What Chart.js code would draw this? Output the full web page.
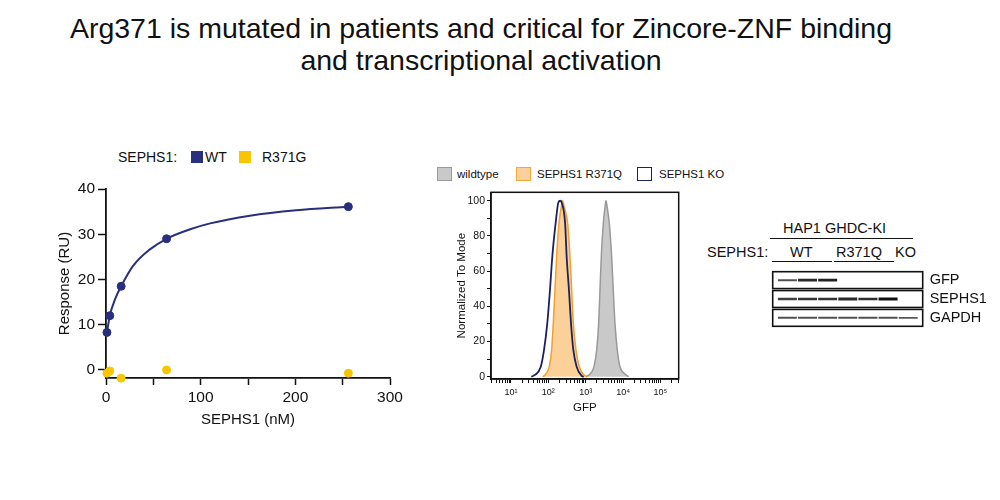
<!DOCTYPE html>
<html>
<head>
<meta charset="utf-8">
<script src="https://cdn.jsdelivr.net/npm/chart.js@4.4.1/dist/chart.umd.min.js"></script>
<style>
body { margin:0; width:1000px; height:500px; background:#fff; position:relative; overflow:hidden;
       font-family:"Liberation Sans", Arial, sans-serif; color:#111; }
.abs { position:absolute; white-space:nowrap; }
canvas { position:absolute; }
.title { left:0; width:962px; text-align:center; font-size:28.5px; line-height:32px; }
.sw { position:absolute; box-sizing:border-box; }
.lg1 { font-size:14px; line-height:14px; }
.lg2 { font-size:11.5px; line-height:12px; }
.blot { font-size:14.5px; line-height:16px; }
.rule { position:absolute; height:0; border-top:1.5px solid #111; }
</style>
</head>
<body>

<div class="abs title" style="top:12px">Arg371 is mutated in patients and critical for Zincore-ZNF binding</div>
<div class="abs title" style="top:44px">and transcriptional activation</div>

<!-- panel 1 legend -->
<div class="abs lg1" style="left:118px;top:150px">SEPHS1:</div>
<div class="sw" style="left:191px;top:151px;width:12px;height:12px;background:#282f7d"></div>
<div class="abs lg1" style="left:205px;top:150px">WT</div>
<div class="sw" style="left:239px;top:151px;width:12px;height:12px;background:#f7c600"></div>
<div class="abs lg1" style="left:262px;top:150px">R371G</div>

<!-- panel 2 legend -->
<div class="sw" style="left:437px;top:167px;width:15px;height:14px;background:#c9c9c9;border:1.5px solid #9a9a9a"></div>
<div class="abs lg2" style="left:457px;top:168px">wildtype</div>
<div class="sw" style="left:516px;top:167px;width:15px;height:14px;background:#fcd09a;border:1.5px solid #f3a83a"></div>
<div class="abs lg2" style="left:537px;top:168px">SEPHS1 R371Q</div>
<div class="sw" style="left:637px;top:167px;width:15px;height:14px;background:#fff;border:1.5px solid #1c2163"></div>
<div class="abs lg2" style="left:659px;top:168px">SEPHS1 KO</div>

<!-- panel 3 header -->
<div class="abs blot" style="left:783px;top:220px">HAP1 GHDC-KI</div>
<div class="rule" style="left:770px;top:238px;width:143px"></div>
<div class="abs blot" style="left:707px;top:244px">SEPHS1:</div>
<div class="abs blot" style="left:790px;top:244px">WT</div>
<div class="abs blot" style="left:836px;top:244px">R371Q</div>
<div class="abs blot" style="left:895px;top:244px">KO</div>
<div class="rule" style="left:772px;top:261px;width:60px"></div>
<div class="rule" style="left:834px;top:261px;width:60px"></div>

<canvas id="bindChart" style="left:0;top:170px" width="420" height="270"></canvas>
<canvas id="flowChart" style="left:430px;top:184px" width="270" height="236"></canvas>
<canvas id="blotChart" style="left:760px;top:258px" width="240" height="82"></canvas>

<script>
// ── Binding (SPR) data ─────────────────────────────────────────────
const concNM      = [1, 4, 16, 64, 256];
const wtResponse  = [8.3, 12.0, 18.5, 29.0, 36.1];
const mutResponse = [-0.7, -0.2, -1.8, 0.0, -0.7];
// fitted curve
const fitConc     = [1, 4, 9.5, 16, 29, 46, 64, 89, 110, 152, 201, 256];
const fitResponse = [8.3, 12.0, 15.6, 18.5, 23.1, 26.6, 29.0, 31.1, 32.4, 34.1, 35.3, 36.1];
const bindXTicks  = [0, 50, 100, 150, 200, 250, 300];
const bindYTicks  = [0, 10, 20, 30, 40];

// ── Flow cytometry histograms (GFP, normalized to mode) ───────────
const koGfp     = [35, 44, 63, 77, 94, 111, 128, 157, 186, 209, 228, 282, 310, 357, 405, 467, 573, 780, 891];
const koCount   = [0, 1, 5.7, 15.2, 30.3, 49.3, 68.2, 87.1, 99, 100, 99, 87.1, 68.2, 49.3, 30.3, 15.2, 5.7, 0.5, 0];
const mutGfp    = [71, 82, 106, 123, 136, 151, 167, 193, 229, 243, 263, 330, 380, 422, 467, 550, 676, 957, 1072];
const mutCount  = [0, 1, 5.7, 15.2, 30.3, 49.3, 68.2, 87.1, 98, 100, 97, 87.1, 68.2, 49.3, 30.3, 15.2, 5.7, 0.5, 0];
const wtGfp     = [1000, 1303, 1667, 1968, 2223, 2410, 2612, 2958, 3311, 3491, 3715, 4285, 4955, 5470, 6067, 6998, 8260, 11220, 14125];
const wtCount   = [0, 1.5, 5.7, 15.2, 30.3, 49.3, 68.2, 87.1, 97, 100, 97, 87.1, 68.2, 49.3, 30.3, 15.2, 5.7, 1.5, 0];
const flowDecades = [0, 1, 2, 3, 4, 5];
const flowYTicks  = [0, 10, 20, 30, 40, 50, 60, 70, 80, 90, 100];

// ── Western blot (relative band intensity per lane) ───────────────
const blotRows   = ['GFP', 'SEPHS1', 'GAPDH'];
const blotLanes  = [1, 2, 3, 4, 5, 6, 7];
const gfpBand    = [0.45, 0.8, 0.85, 0, 0, 0, 0];
const sephs1Band = [0.6, 0.7, 0.7, 0.8, 0.75, 1.0, 0];
const gapdhBand  = [0.45, 0.45, 0.45, 0.45, 0.45, 0.45, 0.4];

const NAVY = '#282f7d', GOLD = '#f7c600';
Chart.defaults.font.family = '"Liberation Sans", Arial, sans-serif';
Chart.defaults.color = '#111';
Chart.defaults.animation = false;
Chart.defaults.plugins.legend.display = false;
Chart.defaults.plugins.tooltip.enabled = false;

const fixedTicks = list => scale => { scale.ticks = list.map(v => ({ value: v })); };

// ==================== PANEL 1: binding ====================
new Chart(document.getElementById('bindChart'), {
    type: 'scatter',
    data: {
        datasets: [{
            data: concNM.map((x, i) => ({ x, y: wtResponse[i] })),
            backgroundColor: NAVY, borderColor: NAVY, pointRadius: 4, clip: false
        }, {
            type: 'line',
            data: fitConc.map((x, i) => ({ x, y: fitResponse[i] })),
            borderColor: NAVY, borderWidth: 2, pointRadius: 0,
            cubicInterpolationMode: 'monotone', clip: false
        }, {
            data: concNM.map((x, i) => ({ x, y: mutResponse[i] })),
            backgroundColor: GOLD, borderColor: GOLD, pointRadius: 4, clip: false
        }]
    },
    options: {
        responsive: false,
        layout: { padding: { left: 56, top: 19, right: 30, bottom: 11 } },
        scales: {
            x: {
                type: 'linear', min: 0, max: 300,
                afterBuildTicks: fixedTicks(bindXTicks),
                afterFit: s => { s.height = 51; },
                grid: { drawOnChartArea: false, tickLength: 7, color: '#111', tickWidth: 1.5 },
                border: { color: '#111', width: 1.8 },
                ticks: { font: { size: 15.5 }, padding: 3, maxRotation: 0,
                         callback: v => (v % 100 === 0 ? v : '') },
                title: { display: true, text: 'SEPHS1 (nM)', font: { size: 15 }, padding: 0 }
            },
            y: {
                type: 'linear', min: -1.77, max: 40,
                afterBuildTicks: fixedTicks(bindYTicks),
                afterFit: s => { s.width = 50; },
                grid: { drawOnChartArea: false, tickLength: 8, color: '#111', tickWidth: 1.5 },
                border: { color: '#111', width: 1.8 },
                ticks: { font: { size: 15.5 }, padding: 3 },
                title: { display: true, text: 'Response (RU)', font: { size: 15 }, padding: 0 }
            }
        }
    }
});

// ==================== PANEL 2: flow histogram ====================
const sup = ['\u2070', '\u00b9', '\u00b2', '\u00b3', '\u2074', '\u2075'];
const flowXTicks = [];
flowDecades.forEach(e => { for (let m = 1; m <= 9; m++) flowXTicks.push(m * Math.pow(10, e)); });

const framePlugin = {
    id: 'frame',
    afterDatasetsDraw(chart) {
        const { ctx, chartArea: a } = chart;
        ctx.save();
        ctx.strokeStyle = '#111';
        ctx.lineWidth = 1.5;
        ctx.strokeRect(a.left, a.top, a.right - a.left, a.bottom - a.top);
        ctx.restore();
    }
};

new Chart(document.getElementById('flowChart'), {
    type: 'line',
    data: {
        datasets: [{
            label: 'SEPHS1 KO',
            data: koGfp.map((x, i) => ({ x, y: koCount[i] })),
            borderColor: '#1c2163', borderWidth: 1.8, fill: false
        }, {
            label: 'SEPHS1 R371Q',
            data: mutGfp.map((x, i) => ({ x, y: mutCount[i] })),
            borderColor: '#f0a030', borderWidth: 1.5,
            backgroundColor: 'rgba(251, 190, 110, 0.7)', fill: 'origin'
        }, {
            label: 'wildtype',
            data: wtGfp.map((x, i) => ({ x, y: wtCount[i] })),
            borderColor: '#999999', borderWidth: 1.5,
            backgroundColor: '#c9c9c9', fill: 'origin'
        }]
    },
    options: {
        responsive: false,
        elements: { point: { radius: 0 }, line: { cubicInterpolationMode: 'monotone' } },
        layout: { padding: { left: 25.4, top: 8.3, right: 21.3, bottom: 5.4 } },
        scales: {
            x: {
                type: 'logarithmic', min: 2.94, max: 307000,
                afterBuildTicks: s => { s.ticks = flowXTicks.filter(v => v >= s.min && v <= s.max).map(v => ({ value: v })); },
                afterFit: s => { s.height = 35.6; },
                grid: { drawOnChartArea: false, tickLength: 4, color: '#111', tickWidth: 1 },
                border: { color: '#111', width: 1.5 },
                ticks: {
                    font: { size: 9 }, padding: 4, maxRotation: 0, autoSkip: false,
                    callback: v => {
                        const e = Math.round(Math.log10(v));
                        return (Math.abs(v - Math.pow(10, e)) < 1e-6 && e >= 1) ? '10' + sup[e] : '';
                    }
                },
                title: { display: true, text: 'GFP', font: { size: 11.5 }, padding: 0 }
            },
            y: {
                type: 'linear', min: -1.3, max: 104.8,
                afterBuildTicks: fixedTicks(flowYTicks),
                afterFit: s => { s.width = 35.6; },
                grid: { drawOnChartArea: false, tickLength: 4, color: '#111', tickWidth: 1 },
                border: { color: '#111', width: 1.5 },
                ticks: { font: { size: 10.5 }, padding: 2, autoSkip: false,
                         callback: v => (v % 20 === 0 ? v : '') },
                title: { display: true, text: 'Normalized To Mode', font: { size: 11.5 }, padding: 0 }
            }
        }
    },
    plugins: [framePlugin]
});

// ==================== PANEL 3: western blot ====================
const rowFrames = {
    id: 'rowFrames',
    beforeDatasetsDraw(chart) {
        const { ctx, chartArea: a } = chart;
        const y = chart.scales.y;
        const half = (a.bottom - a.top) / blotRows.length / 2 - 1;
        ctx.save();
        ctx.strokeStyle = '#111';
        ctx.lineWidth = 1.6;
        blotRows.forEach((r, i) => {
            const c = y.getPixelForValue(i);
            ctx.strokeRect(a.left, c - half, a.right - a.left, half * 2);
        });
        ctx.restore();
    }
};

const bandSet = (row, levels) => ({
    data: blotLanes.map((x, i) => ({ x, y: row, v: levels[i] })),
    pointStyle: 'line',
    pointRadius: c => (c.raw.v > 0 ? 9.5 : 0),
    pointHoverRadius: c => (c.raw.v > 0 ? 9.5 : 0),
    pointBorderWidth: c => 1 + 2.2 * c.raw.v,
    pointBorderColor: c => 'rgba(15, 15, 15, ' + (0.5 + 0.5 * c.raw.v) + ')'
});

new Chart(document.getElementById('blotChart'), {
    type: 'scatter',
    data: {
        datasets: [
            bandSet('GFP', gfpBand),
            bandSet('SEPHS1', sephs1Band),
            bandSet('GAPDH', gapdhBand)
        ]
    },
    options: {
        responsive: false,
        layout: { padding: { left: 10, top: 8.7, right: 0, bottom: 10 } },
        scales: {
            x: { type: 'linear', min: 0.27, max: 7.72, display: false },
            y: {
                type: 'category', labels: blotRows, offset: true, position: 'right',
                afterFit: s => { s.width = 77.3; },
                grid: { drawOnChartArea: false, drawTicks: true, tickLength: 7, color: 'rgba(0,0,0,0)' },
                border: { display: false },
                ticks: { font: { size: 14.5 }, padding: 0, autoSkip: false }
            }
        }
    },
    plugins: [rowFrames]
});
</script>
</body>
</html>
